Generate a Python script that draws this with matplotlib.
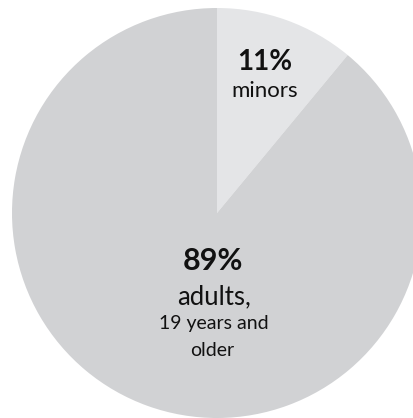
import matplotlib
matplotlib.use("Agg")
import matplotlib.pyplot as plt

categories = ["minors", "adults"]
values = [11, 89]
pct_labels = ["11%", "89%"]
desc_labels = [["minors"], ["adults,", "19 years and", "older"]]
colors = ["#e4e5e7", "#d1d2d4"]

W, H = 414, 418
fig = plt.figure(figsize=(W / 100, H / 100), dpi=100)
ax = fig.add_axes([0, 0, 1, 1])
ax.pie(values, colors=colors, startangle=90, counterclock=False,
       center=(217, H - 213), radius=205,
       wedgeprops=dict(linewidth=0))
ax.set_xlim(0, W)
ax.set_ylim(0, H)
ax.set_aspect("auto")
ax.axis("off")

font = "Lato"
tc = "#111111"
# minors labels
ax.text(265, H - 70, pct_labels[0], ha="center", va="baseline",
        fontsize=20, fontweight="bold", family=font, color=tc)
ax.text(265, H - 97, desc_labels[0][0], ha="center", va="baseline",
        fontsize=16, family=font, color=tc)
# adults labels
ax.text(213, H - 270, pct_labels[1], ha="center", va="baseline",
        fontsize=22, fontweight="bold", family=font, color=tc)
ax.text(214, H - 304, desc_labels[1][0], ha="center", va="baseline",
        fontsize=18.5, family=font, color=tc)
ax.text(214, H - 329, desc_labels[1][1], ha="center", va="baseline",
        fontsize=14, family=font, color=tc)
ax.text(212, H - 356, desc_labels[1][2], ha="center", va="baseline",
        fontsize=14, family=font, color=tc)

fig.savefig("out.png", dpi=100)
